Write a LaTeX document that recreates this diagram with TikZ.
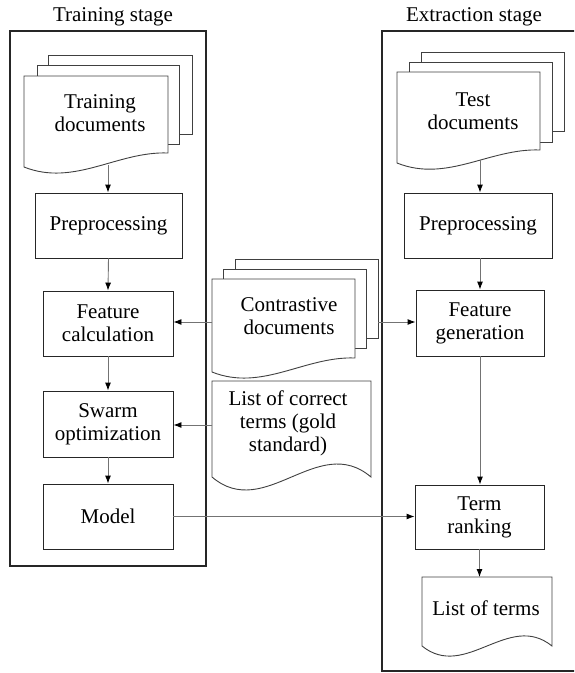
\documentclass[tikz,border=0pt]{standalone}
\usepackage{fontspec}
\setmainfont{LiberationSerif}[Extension=.ttf, UprightFont=*-Regular, BoldFont=*-Bold, ItalicFont=*-Italic]
\usetikzlibrary{arrows.meta}

% front sheet of a document stack: left, top, right, bottom-left y, bottom-right y
\newcommand\frontsheet[5]{%
  \draw[sheet,fill=white] (#1,#2) -- (#3,#2) -- (#3,#5)
    .. controls ({#1+0.65*(#3-#1)},{#5-2}) and ({#1+0.35*(#3-#1)},{#4+20}) .. (#1,#4) -- cycle;}
% sheet behind: left, top, right, bottom, top of sheet in front, right of sheet in front
\newcommand\backsheet[6]{%
  \draw[sheet] (#1,#5) -- (#1,#2) -- (#3,#2) -- (#3,#4) -- (#6,#4);}
% single document: left, top, right, bottom, wave depth
\newcommand\singlesheet[5]{%
  \draw[sheet,fill=white] (#1,#2) -- (#3,#2) -- (#3,#4)
    .. controls ({#1+0.667*(#3-#1)},{#4-#5}) and ({#1+0.333*(#3-#1)},{#4+#5}) .. (#1,#4) -- cycle;}

\begin{document}
\begin{tikzpicture}[x=1pt,y=-1pt,
  every node/.style={font=\rmfamily\fontsize{21}{23}\selectfont, align=center, inner sep=0pt},
  frame/.style={draw=black!85, line width=1.2pt},
  sheet/.style={draw=black!75, line width=0.9pt},
  stepbox/.style={draw=black!85, line width=0.9pt, rectangle, minimum height=65pt},
  arrow/.style={draw=black!55, line width=0.9pt, -{Latex[length=8pt,width=6pt,color=black]}},
  title/.style={}]
\useasboundingbox (0,0) rectangle (574,673);
\clip (0,0) rectangle (574,673);

% stage frames
\draw[frame] (10,31) rectangle (206,566);
\draw[frame] (590,31) -- (382,31) -- (382,671) -- (590,671);
\node[title] (ttitle) at (113,17) {Training stage};
\node[title] (etitle) at (474,17) {Extraction stage};

% training documents
\backsheet{48}{55}{192}{134}{65}{179}
\backsheet{37}{65}{179}{144}{76}{168}
\frontsheet{24}{76}{168}{167}{153}
\node (traindocs) at (100,113) {Training\\documents};
\coordinate (trainbot) at (108,165);

% test documents
\backsheet{421}{52}{564}{131}{62}{552}
\backsheet{409}{62}{552}{142}{72}{540}
\frontsheet{397}{72}{540}{163}{150}
\node (testdocs) at (473,111) {Test\\documents};
\coordinate (testbot) at (480,160);

% contrastive documents
\backsheet{235}{259}{378}{338}{269}{366}
\backsheet{223}{269}{366}{348}{279}{355}
\frontsheet{212}{279}{355}{372}{358}
\node (contrdocs) at (289,316) {Contrastive\\documents};
\coordinate (contrL) at (212,322);
\coordinate (contrR) at (378,322);

% gold standard list
\singlesheet{212}{381}{371}{477}{45}
\node (gold) at (288,423) {List of correct\\terms (gold\\standard)};
\coordinate (goldL) at (212,425);

% output list
\singlesheet{422}{577}{552}{646}{35}
\node (terms) at (486,608) {List of terms};

% training stage steps
\node[stepbox, minimum width=147pt] (prepL) at (108.5,225.5) {Preprocessing};
\node[stepbox, minimum width=130pt] (featcalc) at (108,323.5) {Feature\\calculation};
\node[stepbox, minimum width=130pt, minimum height=66pt] (swarm) at (108,424) {Swarm\\optimization};
\node[stepbox, minimum width=130pt] (model) at (108,516.5) {Model};

% extraction stage steps
\node[stepbox, minimum width=148pt] (prepR) at (478,225.5) {Preprocessing};
\node[stepbox, minimum width=128pt, minimum height=66pt] (featgen) at (480,323) {Feature\\generation};
\node[stepbox, minimum width=129pt, minimum height=64pt] (termrank) at (479.5,517) {Term\\ranking};

% connectors
\draw[arrow] (trainbot) -- (trainbot |- prepL.north);
\draw[arrow] (prepL.south) -- (featcalc.north);
\draw[arrow] (featcalc.south) -- (swarm.north);
\draw[arrow] (swarm.south) -- (model.north);
\draw[arrow] (contrL) -- (contrL -| featcalc.east);
\draw[arrow] (goldL) -- (goldL -| swarm.east);
\draw[arrow] (testbot) -- (testbot |- prepR.north);
\draw[arrow] (prepR.south -| featgen.north) -- (featgen.north);
\draw[arrow] (contrR) -- (contrR -| featgen.west);
\draw[arrow] (featgen.south) -- (featgen.south |- termrank.north);
\draw[arrow] (model.east) -- (model.east -| termrank.west);
\draw[arrow] (termrank.south) -- (termrank.south |- 0,577);
\end{tikzpicture}
\end{document}
